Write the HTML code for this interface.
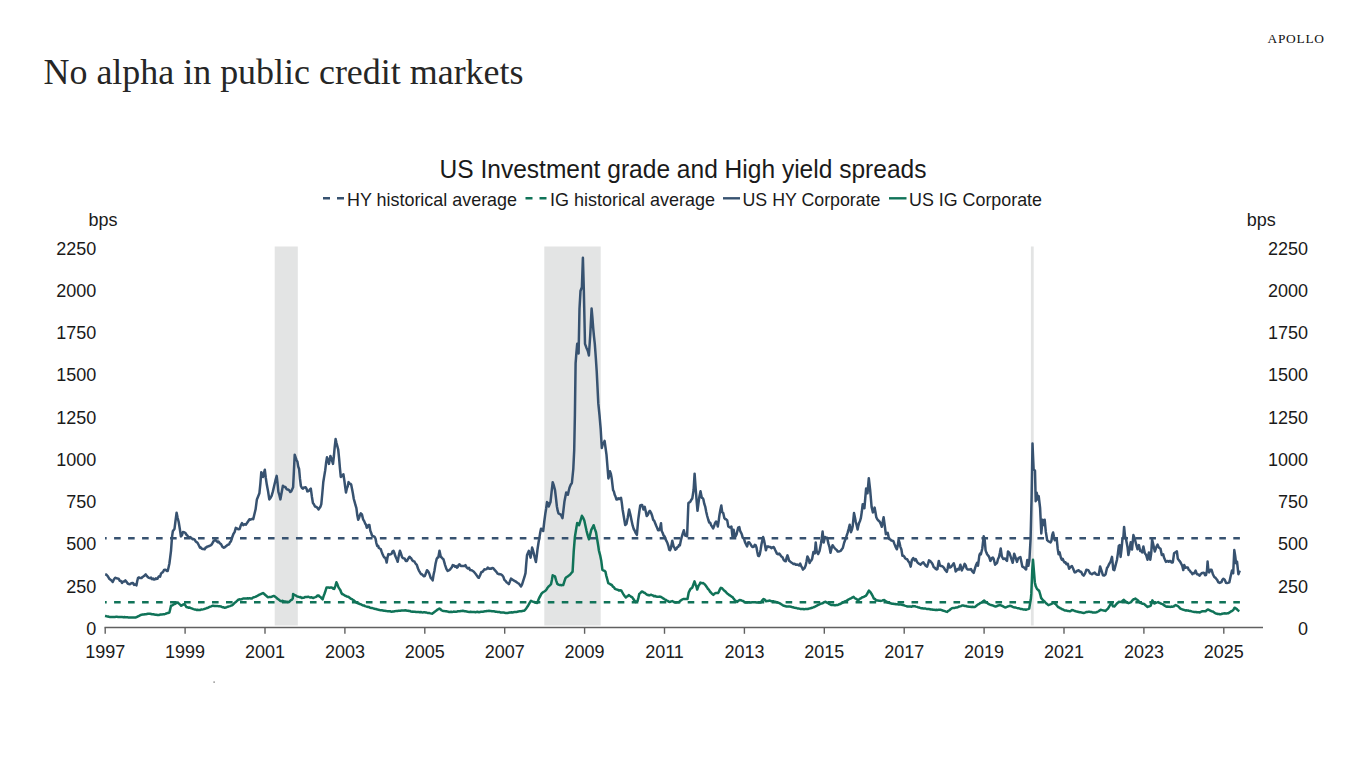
<!DOCTYPE html>
<html><head><meta charset="utf-8"><title>No alpha in public credit markets</title>
<style>
html,body{margin:0;padding:0;background:#fff;}
body{width:1366px;height:768px;overflow:hidden;}
svg{display:block;}
.t{font-family:"Liberation Sans",Arial,sans-serif;font-size:18px;fill:#1a1a1a;}
.ct{font-family:"Liberation Sans",Arial,sans-serif;font-size:25px;fill:#1a1a1a;}
.lg{font-family:"Liberation Sans",Arial,sans-serif;font-size:18.5px;fill:#1a1a1a;}
.h1{font-family:"Liberation Serif","Times New Roman",serif;font-size:35px;fill:#262626;}
.logo{font-family:"Liberation Serif","Times New Roman",serif;font-size:13.4px;fill:#111;}
</style></head>
<body>
<svg width="1366" height="768" viewBox="0 0 1366 768">
<rect x="274.7" y="246.5" width="23.1" height="379" fill="#e3e4e4"/>
<rect x="544.3" y="246.5" width="56.4" height="379" fill="#e3e4e4"/>
<rect x="1030.9" y="246.5" width="2.8" height="379" fill="#e3e4e4"/>
<line x1="104.5" y1="627.5" x2="1263" y2="627.5" stroke="#606060" stroke-width="1.4"/>
<line x1="105.2" y1="627.5" x2="105.2" y2="633.8" stroke="#606060" stroke-width="1.4"/>
<line x1="185.1" y1="627.5" x2="185.1" y2="633.8" stroke="#606060" stroke-width="1.4"/>
<line x1="265.0" y1="627.5" x2="265.0" y2="633.8" stroke="#606060" stroke-width="1.4"/>
<line x1="344.9" y1="627.5" x2="344.9" y2="633.8" stroke="#606060" stroke-width="1.4"/>
<line x1="424.8" y1="627.5" x2="424.8" y2="633.8" stroke="#606060" stroke-width="1.4"/>
<line x1="504.7" y1="627.5" x2="504.7" y2="633.8" stroke="#606060" stroke-width="1.4"/>
<line x1="584.6" y1="627.5" x2="584.6" y2="633.8" stroke="#606060" stroke-width="1.4"/>
<line x1="664.5" y1="627.5" x2="664.5" y2="633.8" stroke="#606060" stroke-width="1.4"/>
<line x1="744.4" y1="627.5" x2="744.4" y2="633.8" stroke="#606060" stroke-width="1.4"/>
<line x1="824.3" y1="627.5" x2="824.3" y2="633.8" stroke="#606060" stroke-width="1.4"/>
<line x1="904.2" y1="627.5" x2="904.2" y2="633.8" stroke="#606060" stroke-width="1.4"/>
<line x1="984.1" y1="627.5" x2="984.1" y2="633.8" stroke="#606060" stroke-width="1.4"/>
<line x1="1064.0" y1="627.5" x2="1064.0" y2="633.8" stroke="#606060" stroke-width="1.4"/>
<line x1="1143.9" y1="627.5" x2="1143.9" y2="633.8" stroke="#606060" stroke-width="1.4"/>
<line x1="1223.8" y1="627.5" x2="1223.8" y2="633.8" stroke="#606060" stroke-width="1.4"/>
<line x1="105" y1="538.3" x2="1240" y2="538.3" stroke="#375270" stroke-width="2.4" stroke-dasharray="6.6 7.39" stroke-dashoffset="4.9"/>
<line x1="105" y1="602.2" x2="1240" y2="602.2" stroke="#107358" stroke-width="2.4" stroke-dasharray="6.6 7.39" stroke-dashoffset="4.9"/>
<polyline points="105.0,615.9 106.0,616.1 107.0,616.4 108.0,616.5 109.0,616.8 110.0,617.0 111.0,616.9 112.0,616.9 113.0,617.0 114.0,616.9 115.0,616.9 116.0,616.8 117.0,616.8 118.0,616.9 119.1,616.9 120.2,616.9 121.2,617.1 122.2,617.1 123.3,617.2 124.4,617.1 125.4,617.3 126.4,617.2 127.4,617.3 128.4,617.4 129.4,617.4 130.4,617.4 131.5,617.5 132.5,617.5 133.5,617.6 134.5,617.6 135.5,617.6 136.5,617.0 137.5,616.7 138.6,616.1 139.6,615.6 140.6,615.0 141.7,614.8 142.7,614.6 143.8,614.5 144.8,614.3 145.8,614.2 146.9,614.0 147.9,613.8 149.0,613.7 150.1,613.8 151.1,614.0 152.2,614.3 153.2,614.3 154.3,614.5 155.4,614.7 156.4,614.7 157.5,615.0 158.5,614.9 159.4,614.9 160.4,614.5 161.4,614.5 162.4,614.4 163.3,614.2 164.3,614.2 165.3,613.9 166.3,613.5 167.4,613.1 168.4,612.9 169.4,612.5 170.2,609.2 171.0,605.8 171.9,605.5 172.8,605.1 173.6,604.5 174.5,604.0 175.6,603.5 176.7,602.7 177.8,602.4 178.9,603.6 180.1,604.6 181.2,605.8 182.3,605.1 183.5,604.4 184.6,604.0 185.4,605.4 186.3,607.0 187.3,607.2 188.3,607.7 189.4,607.5 190.4,607.9 191.4,608.3 192.4,608.7 193.4,609.1 194.4,609.4 195.4,609.5 196.4,610.0 197.3,609.7 198.2,610.0 199.1,609.9 200.0,610.0 201.0,609.6 202.0,609.6 202.9,609.4 203.9,609.1 204.9,608.8 206.0,608.4 207.0,608.0 208.1,607.7 209.1,607.2 210.2,606.7 211.2,606.3 212.3,605.8 213.2,605.7 214.2,606.1 215.1,606.1 216.1,606.1 217.0,605.9 217.9,606.1 218.9,606.3 219.8,606.3 220.8,606.4 221.8,606.9 222.7,607.3 223.7,607.3 224.7,607.8 225.8,607.6 226.8,607.2 227.9,606.7 228.9,606.4 230.0,606.1 231.0,605.7 232.1,605.3 233.1,604.5 234.2,603.3 235.2,602.4 236.2,601.7 237.3,600.6 238.3,599.7 239.3,599.3 240.4,599.4 241.4,599.3 242.4,598.8 243.5,598.4 244.5,598.4 245.6,598.4 246.6,598.4 247.7,598.3 248.7,598.6 249.8,598.2 250.8,598.6 251.9,598.4 253.0,597.6 254.0,597.2 255.1,596.9 256.2,596.5 257.3,595.9 258.3,595.3 259.4,594.7 260.3,594.3 261.2,593.9 262.1,593.5 263.0,593.0 264.0,593.8 265.0,594.7 266.0,595.6 267.0,596.4 268.0,597.2 269.0,597.1 270.1,596.9 271.1,597.0 272.1,596.5 273.2,596.1 274.2,596.0 275.2,596.7 276.3,597.6 277.3,598.6 278.3,599.2 279.4,600.1 280.4,600.9 281.4,601.3 282.3,600.8 283.3,601.1 284.2,601.5 285.2,601.6 286.1,601.7 287.1,601.8 288.0,602.1 289.0,602.1 289.9,601.2 290.9,600.2 291.9,599.7 292.8,598.4 293.1,594.0 294.2,594.8 295.4,595.3 296.5,596.1 297.5,596.5 298.6,596.8 299.6,597.2 300.7,597.1 301.7,598.0 302.8,597.7 303.9,597.7 304.9,597.1 306.0,597.1 307.1,597.1 308.2,596.7 309.2,597.1 310.3,597.5 311.3,597.2 312.4,597.7 313.4,598.0 314.4,597.4 315.5,597.1 316.5,596.6 317.6,595.4 318.6,595.4 319.6,596.6 320.6,597.1 321.6,598.4 322.6,599.3 323.6,596.1 324.6,593.5 325.5,590.8 326.5,587.6 327.5,587.6 328.6,587.6 329.6,587.8 330.7,587.6 331.7,587.6 332.6,588.0 333.4,588.8 334.3,588.9 335.4,585.9 336.4,582.3 337.4,584.4 338.5,587.4 339.5,588.9 340.4,590.3 341.2,592.5 342.1,594.0 343.1,594.4 344.1,595.0 345.0,595.6 346.0,596.0 347.0,596.6 347.9,596.7 348.9,597.2 349.9,598.0 350.9,598.8 351.8,599.1 352.8,599.8 353.8,600.4 354.8,601.4 355.8,602.0 356.7,602.8 357.7,603.2 358.7,603.5 359.8,604.0 360.8,604.2 361.9,604.9 362.9,605.4 363.9,605.4 365.0,606.1 366.0,606.4 367.1,606.7 368.1,607.1 369.1,607.1 370.2,607.8 371.2,607.9 372.3,608.1 373.3,608.4 374.3,608.7 375.4,609.1 376.4,609.1 377.5,609.6 378.5,609.7 379.6,610.0 380.7,610.2 381.8,610.2 382.8,610.4 383.9,610.7 385.0,610.8 386.0,610.9 386.9,611.1 387.9,611.3 388.9,611.3 389.9,611.2 390.8,611.5 391.8,611.7 392.8,611.4 393.7,611.5 394.7,611.3 395.6,611.1 396.6,611.1 397.5,611.0 398.5,610.8 399.5,610.7 400.4,610.8 401.4,610.6 402.4,610.6 403.4,610.6 404.3,610.5 405.3,610.3 406.3,610.4 407.2,610.8 408.2,610.7 409.2,611.0 410.2,611.1 411.1,611.6 412.1,611.7 413.1,611.6 414.0,611.8 415.0,611.8 415.9,611.9 416.9,611.9 417.8,612.0 418.8,612.0 419.8,612.2 420.7,612.1 421.7,612.3 422.7,612.4 423.7,612.3 424.6,612.3 425.6,612.5 426.6,612.6 427.5,612.9 428.5,612.9 429.5,613.1 430.5,613.4 431.4,613.6 432.4,613.7 433.5,612.7 434.7,611.8 435.8,610.8 436.7,610.3 437.6,609.6 438.6,609.0 439.5,608.6 440.5,609.3 441.5,610.2 442.5,610.8 443.5,610.9 444.4,611.1 445.4,611.2 446.4,611.3 447.4,611.6 448.3,611.7 449.3,612.0 450.3,612.0 451.2,611.7 452.2,611.9 453.2,611.8 454.2,611.6 455.1,611.8 456.1,611.7 457.1,611.5 458.0,611.2 459.0,611.2 459.9,611.2 460.9,611.0 461.8,611.0 462.8,610.8 463.8,611.0 464.7,611.2 465.7,611.3 466.7,611.6 467.7,611.7 468.6,611.9 469.6,612.0 470.6,611.8 471.5,612.1 472.5,612.1 473.5,612.0 474.5,612.0 475.4,612.2 476.4,612.0 477.3,611.8 478.2,612.0 479.1,612.2 480.0,611.9 481.0,611.7 482.0,611.7 483.0,611.7 484.0,611.4 484.9,611.3 485.9,611.3 486.9,611.0 487.9,610.9 488.9,610.8 489.9,611.0 490.9,611.1 491.8,611.2 492.8,611.3 493.8,611.3 494.8,611.5 495.7,611.7 496.7,611.8 497.7,611.9 498.7,611.9 499.7,612.1 500.7,612.5 501.7,612.5 502.6,612.6 503.6,612.4 504.6,612.8 505.6,612.9 506.6,613.0 507.6,613.0 508.6,612.8 509.6,612.6 510.6,612.6 511.5,612.2 512.5,612.4 513.5,612.2 514.5,612.0 515.5,611.9 516.5,611.9 517.5,611.8 518.4,611.4 519.4,611.3 520.4,611.3 521.4,611.2 522.3,611.0 523.3,610.8 524.3,610.8 525.4,609.5 526.6,607.9 527.7,606.3 528.8,604.3 529.9,602.4 531.0,600.8 532.1,601.4 533.2,601.7 534.3,601.9 535.3,602.5 536.2,602.8 537.2,603.0 538.3,600.1 539.4,597.5 540.3,596.0 541.2,594.1 542.1,593.0 543.2,592.1 544.3,591.5 545.4,590.8 546.5,589.5 547.6,587.7 548.7,586.4 549.9,585.3 551.0,584.2 551.9,579.9 552.7,575.3 553.9,575.9 555.0,576.3 556.1,580.3 557.3,583.9 558.5,584.6 559.7,585.1 560.6,585.0 561.5,585.3 562.3,585.1 563.2,585.1 564.4,581.4 565.5,578.1 566.7,577.0 567.9,576.3 569.0,575.4 570.2,574.5 571.4,573.0 572.6,571.6 573.7,551.7 574.9,536.9 576.0,530.0 577.2,522.9 578.2,524.0 579.1,525.2 580.0,522.1 581.0,518.9 581.9,515.8 583.1,517.7 584.3,520.5 585.5,525.9 586.6,531.1 587.8,535.6 589.0,539.3 590.1,534.8 591.3,529.9 592.5,527.5 593.6,525.2 594.8,528.9 596.0,532.2 597.1,538.9 598.3,546.3 598.9,550.5 600.1,555.1 601.3,561.1 602.4,569.9 603.4,570.5 604.4,570.7 605.4,571.6 606.2,575.3 607.1,578.6 608.3,583.3 609.5,583.6 610.6,584.5 611.8,585.0 613.0,586.8 614.0,587.4 614.9,588.8 615.9,589.2 616.9,589.5 617.8,589.7 618.8,590.4 620.0,590.2 621.2,590.4 622.4,592.5 623.5,594.4 624.6,596.0 625.8,597.4 626.8,596.6 627.8,596.1 628.8,595.0 629.7,595.7 630.5,596.2 631.4,596.9 632.3,597.4 633.2,598.9 634.0,599.9 634.9,601.1 635.8,602.1 636.7,601.3 637.6,600.9 638.5,597.4 639.3,593.9 640.5,592.9 641.7,591.5 642.7,591.8 643.6,592.5 644.6,592.7 645.6,593.6 646.5,594.4 647.5,595.0 648.4,594.9 649.2,595.4 650.1,595.1 651.0,594.8 651.9,595.1 652.8,595.4 653.6,596.2 654.5,596.0 655.4,596.1 656.2,596.6 657.1,596.8 658.0,596.8 659.0,596.7 660.0,596.6 661.1,597.0 662.3,597.8 663.2,598.4 664.1,598.9 665.0,599.6 665.9,599.9 666.8,600.5 667.6,600.9 668.5,601.5 669.4,601.9 670.4,601.7 671.3,601.4 672.3,601.1 673.3,601.6 674.2,602.0 675.2,602.5 676.1,602.5 677.0,602.2 677.8,602.2 678.7,602.2 679.6,601.5 680.5,600.6 681.3,600.1 682.2,599.5 683.2,599.0 684.2,599.1 685.2,599.0 686.4,599.1 687.5,599.0 688.7,592.5 689.5,590.9 690.4,589.0 691.3,588.4 692.2,587.8 693.4,584.5 694.5,581.4 695.7,584.9 696.5,586.9 697.2,589.6 698.6,585.5 699.5,584.5 700.4,582.6 701.4,582.9 702.3,583.2 703.3,583.1 704.5,584.1 705.7,585.5 706.9,587.2 708.0,589.0 709.0,589.8 709.9,591.5 710.9,592.5 712.1,593.9 713.3,594.9 714.5,593.6 715.6,593.1 716.8,593.1 718.0,593.1 719.0,591.5 719.9,589.2 720.9,587.8 721.9,588.2 722.8,589.2 723.8,590.2 724.8,591.0 725.7,591.8 726.7,593.1 727.6,593.8 728.5,594.4 729.4,595.2 730.3,595.7 731.5,596.6 732.6,597.2 733.8,598.9 734.9,600.1 736.1,601.2 737.3,601.9 738.5,600.7 739.6,599.9 740.8,600.2 742.0,600.7 742.9,601.0 743.8,601.4 744.6,602.0 745.5,602.5 746.4,602.5 747.4,602.6 748.3,602.3 749.3,602.3 750.2,602.5 751.1,602.4 752.0,602.3 752.8,602.2 753.7,602.2 754.6,602.3 755.5,602.2 756.3,602.5 757.2,602.5 758.1,602.6 759.0,602.5 759.8,602.4 760.7,602.5 761.6,601.3 762.5,600.1 763.6,599.0 764.8,599.7 766.0,601.3 767.0,600.9 767.9,600.9 768.9,600.7 769.8,600.6 770.6,601.0 771.5,601.2 772.4,601.3 773.3,601.2 774.1,601.6 775.0,601.7 775.9,601.9 776.8,602.3 777.6,602.6 778.5,602.8 779.4,603.1 780.3,603.6 781.2,604.2 782.1,604.8 783.0,605.4 783.9,605.8 784.8,606.0 785.6,606.2 786.5,606.6 787.4,606.4 788.2,606.6 789.1,606.5 790.0,606.6 790.9,606.7 791.9,607.0 792.8,607.2 793.8,607.5 794.7,607.7 795.6,607.9 796.5,608.0 797.5,608.5 798.4,608.4 799.3,608.6 800.2,608.9 801.2,608.9 802.1,609.1 803.1,608.9 804.0,609.3 804.9,609.1 805.9,609.0 806.8,608.9 807.8,609.0 808.7,608.6 809.6,608.4 810.5,608.3 811.3,608.0 812.2,607.7 813.1,607.4 814.1,607.0 815.0,606.6 816.0,606.1 816.9,605.7 817.9,605.0 818.8,604.8 819.8,604.2 820.8,603.6 821.7,603.4 822.6,603.3 823.6,602.5 824.5,602.1 825.5,601.7 826.4,602.4 827.4,602.8 828.3,603.2 829.2,603.9 830.2,604.5 831.1,605.0 832.2,605.1 833.2,604.9 834.3,605.2 835.4,605.2 836.4,605.0 837.5,605.0 838.5,604.6 839.4,604.1 840.4,604.0 841.3,603.2 842.2,603.0 843.2,602.5 844.1,601.9 845.1,601.3 846.0,601.0 846.9,600.6 847.9,599.8 848.8,599.3 849.8,598.7 850.7,598.5 851.7,597.9 852.6,597.4 853.6,596.9 854.6,598.0 855.7,598.7 856.7,599.2 857.7,600.1 858.7,599.9 859.7,598.9 860.7,598.4 861.7,597.7 862.7,597.2 863.7,596.9 864.7,596.2 865.7,596.1 866.8,594.6 867.8,592.7 868.9,590.5 870.1,591.8 871.4,593.7 872.6,595.8 873.8,598.5 874.9,598.9 875.9,600.1 877.0,600.6 878.0,600.6 879.0,600.7 880.0,600.8 881.0,600.9 882.1,600.6 883.1,600.2 884.2,600.1 885.3,600.9 886.4,601.5 887.5,602.5 888.5,602.7 889.4,603.1 890.4,603.3 891.3,603.5 892.3,603.8 893.3,603.8 894.2,604.0 895.2,604.0 896.1,604.3 897.1,604.2 898.0,604.4 899.0,604.5 900.0,604.5 900.9,604.6 901.8,604.7 902.8,605.0 903.7,605.2 904.7,605.6 905.6,605.9 906.5,606.1 907.5,606.6 908.4,606.6 909.5,606.4 910.5,606.5 911.6,606.8 912.7,606.1 913.7,606.2 914.8,606.2 915.9,606.6 917.0,606.9 918.0,607.2 919.1,607.5 920.2,607.9 921.3,608.2 922.4,608.3 923.4,608.6 924.5,608.4 925.6,608.6 926.6,608.9 927.7,609.0 928.8,609.0 929.9,609.2 931.0,609.5 932.0,609.5 933.1,609.7 934.2,609.8 935.3,609.9 936.3,609.8 937.4,609.9 938.5,609.8 939.5,609.7 940.6,609.8 941.7,610.1 942.7,610.5 943.8,610.8 944.9,611.2 945.9,611.6 947.0,611.9 948.0,611.1 949.0,610.5 949.9,609.9 950.9,608.9 951.9,608.2 952.9,608.1 953.8,607.9 954.8,607.9 955.7,607.6 956.7,607.4 957.8,607.2 958.8,606.6 959.9,606.4 961.0,606.1 962.0,605.5 963.1,605.4 964.1,605.8 965.1,606.0 966.0,605.9 967.0,606.5 968.0,606.6 969.1,606.7 970.1,606.8 971.2,606.9 972.3,606.7 973.3,607.0 974.4,607.1 975.4,606.6 976.4,605.7 977.3,605.0 978.3,604.3 979.3,603.8 980.3,603.0 981.2,602.6 982.2,602.1 983.1,601.3 984.1,600.6 985.1,601.4 986.0,602.4 987.0,602.7 987.9,603.4 988.9,604.2 990.0,604.7 991.1,605.1 992.1,605.3 993.2,605.6 994.3,606.2 995.4,606.6 996.4,606.3 997.3,605.8 998.3,605.6 999.2,605.2 1000.2,605.0 1001.2,605.5 1002.1,605.9 1003.1,606.4 1004.0,606.9 1005.0,607.4 1006.0,607.2 1006.9,606.9 1007.9,606.4 1008.8,606.2 1009.8,605.8 1010.8,606.0 1011.8,606.4 1012.7,606.9 1013.7,607.3 1014.7,607.4 1015.8,607.6 1016.8,607.9 1017.9,608.2 1019.0,608.3 1020.0,608.7 1021.1,609.0 1022.1,609.1 1023.0,609.4 1024.0,609.4 1024.9,609.4 1025.9,609.8 1027.0,609.4 1028.1,609.1 1029.2,608.7 1030.0,603.9 1030.8,599.3 1031.3,593.9 1032.3,569.5 1033.0,559.8 1033.8,569.5 1034.8,582.2 1035.7,586.1 1036.5,587.8 1037.2,589.1 1038.2,590.0 1039.2,591.0 1040.2,594.3 1041.1,597.9 1042.3,599.4 1043.6,600.8 1044.8,601.8 1046.0,603.2 1047.2,604.1 1048.4,605.2 1049.7,604.7 1050.9,604.2 1052.1,603.6 1053.3,602.7 1054.5,603.4 1055.8,604.2 1057.0,605.7 1058.2,607.1 1059.2,607.5 1060.1,608.1 1061.1,608.6 1062.1,609.3 1063.1,609.5 1064.1,610.1 1065.1,610.5 1066.0,610.4 1067.0,610.7 1068.0,610.9 1068.9,611.1 1069.9,611.3 1070.9,610.8 1071.9,610.1 1072.9,610.3 1073.8,610.5 1074.8,611.0 1075.8,611.3 1076.7,611.5 1077.7,611.7 1078.7,612.0 1079.7,612.3 1080.7,612.3 1081.7,612.6 1082.6,612.8 1083.6,613.0 1084.6,612.7 1085.5,612.4 1086.5,612.0 1087.5,612.1 1088.5,611.7 1089.5,611.7 1090.5,611.9 1091.4,611.9 1092.4,612.5 1093.4,612.6 1094.3,612.5 1095.3,612.5 1096.3,612.3 1097.2,612.0 1098.2,611.5 1099.5,610.6 1100.7,609.8 1101.9,610.1 1103.1,610.4 1104.3,610.6 1105.6,611.0 1106.8,609.7 1108.0,608.6 1109.0,606.8 1110.0,605.2 1111.4,602.7 1112.2,604.5 1112.9,606.2 1113.7,606.4 1114.4,606.6 1115.3,605.4 1116.3,604.2 1117.5,603.0 1118.8,601.8 1120.0,601.9 1121.2,601.8 1122.4,600.9 1123.6,599.8 1124.8,600.8 1126.1,601.8 1127.3,602.6 1128.5,603.2 1129.8,602.7 1131.0,602.2 1132.2,600.6 1133.4,599.3 1134.3,599.2 1135.3,598.6 1136.2,599.3 1137.0,599.6 1137.9,600.4 1138.8,601.4 1139.6,602.2 1140.5,603.0 1141.4,603.0 1142.3,603.7 1143.2,603.7 1144.1,603.9 1145.0,604.8 1145.8,605.5 1146.7,606.2 1147.6,607.0 1148.6,606.4 1149.7,606.3 1150.7,605.7 1151.6,603.1 1152.4,600.4 1153.3,601.9 1154.2,603.5 1155.3,603.1 1156.4,602.6 1157.2,602.4 1158.1,602.1 1159.0,602.7 1159.9,603.0 1160.8,603.5 1161.7,603.9 1162.5,604.1 1163.4,604.8 1164.3,605.3 1165.1,606.0 1166.0,606.5 1166.9,606.7 1167.8,606.6 1168.6,606.7 1169.5,606.8 1170.4,606.9 1171.3,606.6 1172.2,606.7 1173.1,606.5 1174.0,606.2 1174.8,605.5 1175.7,605.0 1176.8,605.7 1177.9,606.1 1179.0,607.1 1180.1,608.3 1181.0,608.8 1181.8,609.2 1182.7,609.6 1183.6,609.8 1184.5,610.1 1185.3,610.4 1186.2,610.3 1187.1,610.4 1188.0,610.5 1188.9,610.8 1189.8,610.9 1190.7,611.0 1191.5,611.4 1192.4,611.6 1193.3,611.8 1194.2,611.9 1195.0,612.0 1195.9,612.0 1196.8,612.2 1197.8,612.3 1198.9,612.2 1199.9,612.4 1200.8,611.9 1201.6,611.5 1202.5,611.2 1203.5,611.2 1204.6,611.3 1205.6,611.2 1206.7,610.3 1207.8,609.4 1208.9,609.9 1210.0,610.5 1210.9,610.9 1211.7,611.3 1212.6,611.4 1213.5,612.0 1214.3,612.6 1215.2,613.1 1216.1,613.5 1217.0,613.7 1217.9,614.0 1218.8,613.9 1219.7,614.2 1220.5,614.2 1221.4,614.0 1222.3,613.7 1223.2,613.6 1224.0,613.5 1224.9,613.3 1225.8,613.4 1226.7,613.4 1227.5,613.3 1228.4,613.3 1229.3,612.6 1230.2,612.0 1231.1,611.4 1232.2,610.8 1233.3,610.0 1234.6,607.7 1235.4,608.1 1236.3,608.7 1237.2,609.5 1238.1,610.5 1239.4,611.2" fill="none" stroke="#107358" stroke-width="2.5" stroke-linejoin="round"/>
<polyline points="105.1,574.4 106.3,574.6 107.6,576.0 108.5,577.4 109.3,578.8 110.2,579.5 111.5,580.5 112.7,582.0 114.0,579.3 115.2,577.8 116.3,578.1 117.5,578.6 118.6,578.7 119.7,580.7 120.9,581.0 122.0,583.0 123.1,581.5 124.3,581.6 125.4,580.4 126.5,581.8 127.7,583.5 128.8,584.0 129.9,584.2 130.9,583.5 131.9,583.1 133.0,583.0 134.1,584.9 135.3,584.5 136.4,585.4 137.2,581.3 138.0,578.0 138.9,577.4 139.8,578.0 140.6,578.1 141.5,578.0 142.6,576.9 143.6,576.2 144.6,575.4 145.7,574.4 146.8,575.9 147.9,577.2 149.0,577.8 150.0,578.2 151.0,577.6 152.0,579.2 153.0,578.5 154.0,579.5 154.9,579.2 155.8,578.4 156.6,578.9 157.5,578.7 158.4,577.0 159.2,576.3 160.1,576.6 161.0,573.6 162.0,572.6 163.0,572.1 164.0,569.9 165.0,569.7 165.9,570.0 166.8,570.9 167.7,571.0 168.6,567.2 169.4,563.5 170.2,557.4 171.0,550.8 172.0,537.2 172.8,531.3 173.7,530.1 174.5,528.8 175.6,520.1 176.6,512.7 177.6,517.7 178.7,522.0 179.8,528.7 180.9,536.4 181.9,535.4 182.9,532.1 184.2,532.2 185.4,533.0 186.3,534.5 187.1,535.3 188.0,536.4 189.1,537.5 190.3,537.1 191.4,538.0 192.5,539.2 193.7,539.1 194.8,539.8 195.7,541.5 196.6,542.1 197.5,542.7 198.8,545.3 200.0,547.7 200.9,547.6 201.8,548.8 202.8,549.0 203.7,549.0 204.6,549.3 205.6,547.5 206.5,547.4 207.4,546.4 208.3,546.4 209.2,546.0 210.1,545.6 211.0,545.2 211.9,544.1 212.9,542.3 213.9,540.8 214.8,540.2 215.7,540.3 216.7,541.2 217.6,542.1 218.5,541.5 219.8,543.3 221.0,544.0 222.2,546.5 223.5,547.7 224.4,547.5 225.3,546.9 226.3,545.9 227.2,545.2 228.1,544.7 229.1,544.4 230.0,542.2 230.9,541.5 232.2,537.3 233.4,534.0 234.6,532.1 235.8,527.9 236.8,528.3 237.7,529.0 238.7,529.2 239.6,529.0 240.8,525.3 242.0,523.0 243.2,525.1 244.5,524.2 245.8,524.7 247.0,523.0 248.2,521.2 249.5,519.2 250.4,519.7 251.3,519.3 252.3,518.7 253.2,519.2 254.4,514.2 255.6,509.3 256.9,499.4 258.1,496.5 259.4,493.2 260.4,483.4 261.3,472.2 262.1,475.0 263.0,477.0 263.9,473.4 264.8,469.7 265.8,478.0 266.8,484.6 268.1,491.5 269.3,499.4 270.5,498.0 271.7,495.7 272.9,491.4 274.2,485.8 275.4,480.7 276.7,475.9 277.5,482.9 278.4,492.0 279.4,495.2 280.4,499.4 281.6,492.7 282.9,485.8 284.1,486.7 285.3,487.0 286.6,489.2 287.8,489.5 289.1,490.1 290.3,492.0 291.3,491.2 292.2,489.3 293.1,487.3 293.9,471.4 294.7,454.7 295.6,457.3 296.5,460.0 297.4,461.6 298.2,466.5 299.1,469.0 300.0,478.9 300.9,486.0 301.9,487.9 303.0,488.6 303.9,487.6 304.7,487.5 305.6,487.3 306.5,488.7 307.3,491.4 308.2,491.2 309.1,490.7 309.9,489.5 310.8,488.6 311.9,496.7 312.9,502.9 313.9,504.2 315.0,506.6 316.0,506.8 316.9,507.3 317.7,508.2 318.6,509.4 319.5,508.1 320.4,506.8 321.3,504.2 322.3,493.5 323.3,482.0 324.2,476.4 325.2,470.4 326.1,462.8 327.0,457.3 328.0,460.2 329.0,463.9 330.4,456.0 331.3,458.3 332.1,460.9 333.0,463.9 333.9,456.0 334.7,447.2 335.6,439.1 336.5,443.0 337.3,446.1 338.2,449.5 339.1,458.4 339.9,467.8 340.8,476.9 341.7,476.3 342.5,475.7 343.4,474.3 344.3,480.1 345.1,486.3 346.0,492.5 346.9,488.2 347.7,486.5 348.6,482.1 349.5,483.8 350.3,483.7 351.2,484.7 352.1,489.2 352.9,493.5 353.8,499.0 354.7,502.1 355.5,505.2 356.4,508.1 357.3,515.3 358.2,519.8 359.1,517.8 359.9,515.0 360.8,513.3 361.9,514.4 363.1,519.3 364.2,521.1 365.1,523.4 365.9,524.5 366.8,527.7 367.7,526.9 368.5,524.9 369.4,525.0 370.3,530.6 371.1,532.7 372.0,535.5 372.9,536.3 373.7,536.3 374.6,536.8 375.5,538.5 376.3,542.8 377.2,545.9 378.1,545.8 378.9,548.0 379.8,548.5 380.7,549.0 381.5,551.4 382.4,553.7 383.3,555.7 384.1,557.3 385.0,557.6 385.9,559.4 386.7,562.6 387.5,557.4 388.4,554.1 389.6,554.6 390.9,554.1 391.8,553.5 392.6,551.3 393.5,550.8 394.4,552.9 395.2,555.8 396.4,558.4 397.7,561.8 398.8,555.6 399.9,550.8 400.9,553.3 401.9,556.7 402.8,558.0 403.6,558.2 404.5,558.4 405.8,560.9 407.0,560.9 408.2,558.7 409.5,556.7 410.4,557.7 411.2,558.3 412.1,560.0 413.2,561.1 414.4,561.5 415.5,563.5 416.8,564.9 418.0,568.5 418.9,570.6 419.7,571.9 420.9,574.0 422.2,574.5 423.1,575.5 423.9,576.3 424.8,576.1 425.9,573.3 427.0,570.2 428.0,571.1 429.0,572.8 429.9,575.3 430.7,577.8 431.7,578.9 432.7,580.4 433.5,575.1 434.4,571.0 435.5,564.1 436.6,559.2 437.5,557.5 438.3,557.5 439.5,550.8 440.8,556.7 441.7,557.5 442.5,558.5 443.4,559.2 444.2,561.9 445.1,565.1 446.4,568.9 447.6,571.0 448.9,570.3 450.1,569.4 451.0,568.3 451.8,567.3 452.7,565.1 453.9,565.5 455.2,566.8 456.0,566.1 456.9,567.7 457.8,567.0 458.6,565.0 459.5,564.3 460.8,565.9 462.0,566.0 463.1,565.9 464.3,566.0 465.4,565.1 466.6,567.3 467.9,568.5 469.0,567.8 470.2,570.1 471.3,570.2 472.4,570.7 473.6,571.5 474.7,572.8 475.9,574.2 477.2,576.1 478.0,577.3 478.9,577.8 480.1,575.3 481.4,571.9 482.4,572.0 483.3,570.9 484.4,569.3 485.6,569.4 486.7,569.1 487.8,567.5 488.9,568.7 490.0,568.6 491.1,568.8 492.2,567.9 493.3,568.2 494.4,569.7 495.5,570.9 496.6,572.1 497.7,573.7 498.8,574.2 499.9,574.1 501.1,574.5 502.2,575.3 503.3,576.7 504.4,579.8 505.5,580.8 506.6,582.4 507.7,583.0 508.8,584.2 509.9,581.5 511.0,578.6 512.1,579.4 513.3,580.2 514.4,580.8 515.5,581.4 516.6,582.1 517.7,583.0 518.8,583.6 519.9,585.0 521.0,586.4 522.1,584.3 523.2,580.8 524.4,577.2 525.5,573.1 526.2,564.2 527.0,555.3 527.9,553.0 528.8,550.9 529.7,554.3 530.6,557.6 531.4,552.8 532.1,547.6 532.9,550.0 533.7,553.1 534.8,557.7 535.9,562.0 536.8,555.5 537.6,548.7 538.5,542.7 539.4,537.6 540.2,532.7 541.0,528.7 542.1,529.3 543.2,531.0 544.3,521.5 545.4,513.2 546.2,508.2 547.0,502.1 547.9,502.9 548.7,506.6 549.6,504.2 550.5,502.1 551.6,491.8 552.7,482.2 553.9,485.7 555.0,490.0 556.0,498.3 556.9,506.5 557.7,510.7 558.5,513.5 559.7,514.1 560.9,514.7 561.7,516.4 562.5,518.2 563.5,509.6 564.4,501.8 565.3,497.0 566.2,492.4 567.0,494.1 567.9,494.8 568.7,491.0 569.5,487.7 570.7,484.7 571.9,483.0 573.3,469.0 574.2,450.3 574.9,415.1 575.6,363.3 576.4,352.8 577.2,343.8 578.6,353.5 579.5,308.6 580.5,291.0 581.9,287.1 582.9,257.8 583.8,289.0 585.0,343.8 586.4,347.7 587.3,349.6 588.1,351.9 588.9,355.5 590.3,334.0 591.6,308.6 592.4,317.5 593.2,328.1 594.0,336.6 594.8,343.8 595.8,357.7 596.7,371.1 597.5,387.1 598.3,403.4 599.5,415.1 600.7,429.2 601.8,447.9 603.0,443.2 603.8,442.9 604.6,440.9 605.5,447.5 606.5,454.9 607.5,467.1 608.4,478.4 609.2,475.3 610.0,471.3 610.9,473.9 611.7,478.4 613.1,490.1 613.9,491.5 614.7,494.8 615.5,496.5 616.4,499.4 617.3,499.4 618.2,498.3 619.1,499.1 620.0,498.4 621.0,497.8 621.8,502.9 622.6,509.5 623.9,517.3 625.2,525.1 626.5,523.8 627.8,517.3 629.1,509.5 630.4,514.7 631.7,521.2 632.7,525.7 633.7,529.0 634.7,530.7 635.6,532.9 636.9,534.9 638.2,519.9 639.2,512.5 640.2,505.6 641.2,504.9 642.1,504.9 643.4,509.5 644.7,506.9 645.7,511.3 646.7,516.0 648.0,514.7 649.0,511.7 649.9,510.8 651.3,513.4 652.2,516.0 653.2,519.9 654.2,520.8 655.2,523.2 656.2,525.7 657.1,527.7 658.1,530.3 659.1,530.3 660.0,528.4 661.0,523.2 661.7,531.0 662.7,533.0 663.6,535.5 664.6,536.4 665.6,539.4 666.5,541.1 667.5,543.3 668.4,546.0 669.2,549.8 670.0,550.3 670.8,548.5 671.5,544.9 672.3,540.7 673.6,546.6 674.5,547.8 675.3,549.8 676.3,549.1 677.3,547.2 678.2,546.9 679.0,545.0 679.9,545.3 680.8,540.7 681.8,536.8 682.8,533.4 683.8,530.3 685.1,535.5 686.1,535.9 687.1,536.2 688.4,503.0 689.3,502.4 690.3,501.7 691.3,499.8 692.3,498.4 693.6,490.0 694.6,473.7 695.8,490.0 696.6,500.5 697.5,510.8 698.4,503.9 699.2,497.8 700.5,491.3 701.8,497.8 702.5,497.9 703.3,499.1 704.3,503.9 705.3,506.9 706.2,511.7 707.2,516.0 708.2,519.5 709.2,522.5 710.2,522.8 711.1,525.1 712.1,526.7 713.1,528.4 714.0,526.3 715.0,523.2 716.1,521.5 717.0,523.2 717.8,526.5 718.6,521.6 719.4,515.4 720.3,510.2 721.3,505.5 722.2,512.1 723.3,513.2 724.4,518.2 725.2,519.0 726.1,519.3 727.2,520.4 728.3,526.5 729.1,527.0 729.9,527.6 730.6,527.2 731.4,526.5 732.5,536.5 733.6,529.8 734.9,536.5 735.8,536.1 736.6,534.2 737.4,530.7 738.2,527.6 739.3,527.1 740.1,530.8 741.0,532.6 741.9,534.6 742.7,537.6 743.5,538.1 744.3,539.8 745.1,542.4 746.0,544.2 747.1,546.4 748.2,542.5 749.0,542.2 749.8,543.1 750.6,544.3 751.5,545.9 752.4,547.0 753.2,547.0 754.0,546.6 754.8,544.8 755.6,545.1 756.5,547.5 757.3,552.0 758.1,555.8 759.0,556.1 759.8,554.2 760.6,549.9 761.5,544.2 762.3,540.5 763.1,537.0 764.2,540.9 765.0,545.2 765.9,550.3 767.0,546.4 768.1,546.5 769.2,547.0 770.3,546.9 771.4,548.1 772.5,547.4 773.6,547.0 774.5,548.5 775.3,550.3 776.1,551.9 776.9,553.6 778.0,554.3 779.2,553.6 780.3,554.9 781.4,556.4 782.5,557.2 783.6,559.7 784.7,561.1 785.8,561.3 786.6,557.7 787.5,555.3 788.3,557.8 789.1,560.8 790.2,561.6 791.3,562.5 792.4,563.1 793.5,564.1 794.6,563.8 795.8,564.7 796.9,564.6 798.0,564.7 799.1,565.5 800.2,563.6 801.3,566.3 802.1,567.6 802.9,569.6 803.8,568.7 804.6,568.0 805.7,565.2 806.5,561.5 807.4,556.4 808.5,558.6 809.6,563.0 810.5,561.0 811.3,560.4 812.1,558.9 813.4,552.1 814.8,553.4 815.7,542.5 816.8,552.1 818.2,554.1 819.6,550.7 820.9,543.9 821.8,538.2 822.6,531.6 823.7,542.5 825.0,537.0 826.0,537.9 827.1,537.7 828.5,543.9 829.5,547.2 830.5,552.8 831.5,548.5 832.6,545.2 833.6,546.7 834.6,548.0 835.7,549.3 836.7,550.0 837.7,551.5 838.7,551.4 839.8,551.3 840.8,550.7 841.8,549.2 842.8,548.0 844.2,542.5 845.0,540.5 845.8,538.4 846.7,535.5 847.6,532.9 848.7,528.9 849.7,524.7 851.0,532.2 851.9,529.6 852.7,526.1 854.0,513.1 854.9,517.3 855.8,522.0 856.7,525.3 857.6,529.5 858.4,525.6 859.2,522.7 860.0,521.0 860.9,517.9 861.8,511.8 862.7,504.2 863.5,506.8 864.4,508.3 865.2,498.9 866.1,488.5 867.5,493.3 868.8,478.2 870.2,490.5 871.6,506.9 872.9,512.4 873.8,510.5 874.6,507.6 875.5,512.4 876.3,517.2 877.3,519.3 878.4,520.6 879.5,521.4 880.5,523.4 881.8,526.8 882.7,521.9 883.6,517.2 885.0,527.5 885.9,534.3 886.8,533.2 887.7,532.9 888.5,536.4 889.3,539.1 890.3,539.5 891.4,540.5 892.4,540.7 893.4,541.1 894.5,544.1 895.5,546.6 896.9,549.3 897.8,545.4 898.6,539.8 899.5,542.7 900.3,546.6 901.4,549.5 902.4,555.7 903.3,555.6 904.3,556.6 905.2,558.3 906.2,559.0 907.2,559.3 908.1,560.9 909.5,562.8 910.7,566.6 911.9,560.0 913.3,558.1 914.7,560.4 915.7,559.0 917.1,561.9 918.0,563.1 919.0,563.8 919.8,563.9 920.5,564.7 921.5,563.7 922.4,562.8 923.3,562.2 924.3,563.8 925.7,565.7 927.1,566.6 928.0,563.9 929.0,560.4 930.0,560.8 930.9,561.9 931.8,562.8 932.8,564.7 933.8,567.4 934.7,567.6 935.7,569.0 936.6,569.5 937.4,569.2 938.1,564.7 938.8,560.9 940.0,565.7 941.0,566.1 941.9,566.1 942.8,566.6 943.8,567.6 945.2,570.0 946.0,571.0 946.8,571.9 947.6,568.8 948.5,563.8 949.2,565.7 950.0,567.6 951.0,566.9 951.9,565.7 952.8,564.8 953.8,563.3 954.8,566.8 955.7,571.4 956.7,570.3 957.6,569.0 959.0,569.5 960.4,564.7 961.8,570.4 962.5,568.7 963.3,567.6 964.7,563.8 965.7,565.4 966.6,568.5 967.5,569.5 968.5,569.5 969.7,569.6 970.9,569.0 972.3,571.4 973.7,572.8 974.5,570.2 975.2,567.6 976.2,564.7 977.1,562.8 978.0,565.7 979.4,555.2 980.1,553.5 980.9,554.3 982.3,548.5 983.7,536.2 984.7,540.0 985.6,550.4 986.4,552.6 987.1,554.3 988.0,555.4 989.0,556.6 990.4,560.9 991.8,558.1 992.8,557.5 993.7,559.0 995.1,564.7 996.1,563.7 997.1,562.8 998.0,559.0 999.0,557.1 999.9,552.8 1000.7,548.5 1001.8,556.2 1003.2,559.0 1004.2,558.8 1005.1,558.5 1006.0,559.9 1007.0,560.9 1008.0,551.4 1009.4,552.8 1010.8,557.1 1011.8,560.1 1012.7,562.8 1013.5,558.4 1014.2,553.8 1015.6,557.6 1017.0,561.9 1017.8,559.3 1018.5,558.1 1019.5,557.4 1020.4,557.1 1021.3,561.5 1022.3,566.6 1023.2,567.0 1024.2,567.6 1025.2,568.7 1026.1,569.5 1027.3,560.0 1028.4,565.7 1029.4,560.2 1030.6,538.5 1031.6,497.8 1032.5,443.6 1033.6,469.0 1035.0,470.7 1035.7,501.2 1036.7,492.7 1037.9,499.5 1038.7,496.1 1040.1,508.0 1041.3,533.4 1042.5,519.8 1043.8,524.9 1044.7,519.8 1045.8,531.7 1047.2,540.2 1048.5,541.4 1049.7,541.9 1050.6,542.4 1051.4,541.0 1052.2,535.2 1053.1,532.5 1053.9,536.6 1054.8,540.2 1055.8,539.8 1056.8,539.6 1057.7,548.7 1058.6,554.2 1059.6,552.4 1060.9,557.8 1061.8,559.7 1062.7,558.8 1063.7,561.2 1064.6,562.4 1065.5,562.3 1066.4,564.2 1067.8,563.8 1069.1,568.8 1070.5,567.0 1071.9,566.0 1073.2,568.8 1074.6,572.4 1075.5,572.2 1076.4,571.5 1077.6,570.6 1078.7,570.2 1079.6,571.4 1080.5,571.5 1081.4,572.3 1082.3,574.3 1083.7,575.6 1085.1,573.3 1086.4,569.7 1087.3,569.9 1088.3,570.2 1089.2,571.7 1090.1,573.3 1091.0,573.7 1091.9,574.3 1092.8,573.5 1093.7,573.3 1094.7,572.5 1095.6,573.8 1096.5,574.5 1097.4,574.7 1098.8,574.7 1100.1,566.5 1101.5,570.6 1102.9,575.2 1104.2,575.6 1105.6,574.3 1107.0,567.9 1107.9,566.9 1108.8,564.7 1109.7,563.1 1110.6,561.5 1112.0,556.9 1113.3,569.7 1114.3,570.2 1115.6,565.1 1117.0,559.7 1117.9,553.3 1118.8,546.0 1119.7,545.1 1120.6,556.9 1121.5,549.6 1122.5,538.7 1123.4,536.9 1124.1,526.9 1125.0,536.0 1126.1,539.6 1127.5,546.9 1128.4,555.1 1129.7,548.7 1130.7,542.3 1132.0,549.6 1133.4,535.1 1134.8,538.7 1136.1,544.2 1137.5,549.2 1138.9,545.1 1140.2,551.0 1141.2,551.1 1142.1,552.4 1143.4,546.4 1144.8,553.3 1146.2,555.1 1147.5,559.7 1148.9,552.4 1150.3,559.7 1151.2,553.3 1152.1,539.6 1153.4,545.1 1154.8,551.5 1155.6,549.3 1156.4,546.9 1157.6,544.6 1158.3,546.5 1159.1,547.8 1160.5,548.7 1161.8,555.1 1163.2,554.2 1164.1,557.8 1165.0,559.7 1165.9,561.9 1166.8,561.4 1167.8,561.0 1168.7,561.8 1169.6,561.0 1170.5,561.0 1171.4,562.4 1172.8,562.4 1174.1,553.3 1175.5,552.3 1176.9,551.4 1177.8,558.7 1179.2,560.6 1180.1,561.6 1181.0,563.3 1182.3,566.0 1183.3,570.1 1184.2,565.1 1185.5,567.8 1186.9,567.4 1187.8,567.4 1188.7,569.7 1189.7,570.4 1190.6,571.9 1191.5,572.6 1192.4,574.2 1193.3,573.2 1194.2,573.3 1195.6,570.6 1196.9,574.2 1197.8,574.3 1198.8,575.1 1199.7,575.6 1200.6,574.2 1201.5,573.4 1202.4,572.9 1203.3,572.8 1204.2,572.9 1205.1,575.2 1206.0,575.1 1207.0,570.6 1207.6,561.5 1208.3,569.7 1209.2,572.4 1210.2,569.7 1211.5,569.7 1212.9,574.2 1214.3,577.0 1215.6,577.9 1217.0,579.7 1218.4,582.4 1219.7,582.9 1220.6,582.4 1221.5,582.0 1222.5,579.6 1223.4,578.8 1224.7,579.7 1226.1,582.9 1227.0,583.1 1227.9,582.9 1229.3,582.4 1230.7,576.0 1232.0,570.6 1233.2,573.3 1234.3,550.1 1235.2,556.0 1236.1,563.3 1237.0,561.5 1238.4,574.2 1239.8,570.6" fill="none" stroke="#375270" stroke-width="2.5" stroke-linejoin="round"/>
<text x="96.2" y="634.8" text-anchor="end" class="t">0</text>
<text x="1308.1" y="634.8" text-anchor="end" class="t">0</text>
<text x="96.2" y="592.5" text-anchor="end" class="t">250</text>
<text x="1308.1" y="592.5" text-anchor="end" class="t">250</text>
<text x="96.2" y="550.3" text-anchor="end" class="t">500</text>
<text x="1308.1" y="550.3" text-anchor="end" class="t">500</text>
<text x="96.2" y="508.0" text-anchor="end" class="t">750</text>
<text x="1308.1" y="508.0" text-anchor="end" class="t">750</text>
<text x="96.2" y="465.8" text-anchor="end" class="t">1000</text>
<text x="1308.1" y="465.8" text-anchor="end" class="t">1000</text>
<text x="96.2" y="423.5" text-anchor="end" class="t">1250</text>
<text x="1308.1" y="423.5" text-anchor="end" class="t">1250</text>
<text x="96.2" y="381.3" text-anchor="end" class="t">1500</text>
<text x="1308.1" y="381.3" text-anchor="end" class="t">1500</text>
<text x="96.2" y="339.0" text-anchor="end" class="t">1750</text>
<text x="1308.1" y="339.0" text-anchor="end" class="t">1750</text>
<text x="96.2" y="296.8" text-anchor="end" class="t">2000</text>
<text x="1308.1" y="296.8" text-anchor="end" class="t">2000</text>
<text x="96.2" y="254.5" text-anchor="end" class="t">2250</text>
<text x="1308.1" y="254.5" text-anchor="end" class="t">2250</text>
<text x="105.2" y="657.6" text-anchor="middle" class="t">1997</text>
<text x="185.1" y="657.6" text-anchor="middle" class="t">1999</text>
<text x="265.0" y="657.6" text-anchor="middle" class="t">2001</text>
<text x="344.9" y="657.6" text-anchor="middle" class="t">2003</text>
<text x="424.8" y="657.6" text-anchor="middle" class="t">2005</text>
<text x="504.7" y="657.6" text-anchor="middle" class="t">2007</text>
<text x="584.6" y="657.6" text-anchor="middle" class="t">2009</text>
<text x="664.5" y="657.6" text-anchor="middle" class="t">2011</text>
<text x="744.4" y="657.6" text-anchor="middle" class="t">2013</text>
<text x="824.3" y="657.6" text-anchor="middle" class="t">2015</text>
<text x="904.2" y="657.6" text-anchor="middle" class="t">2017</text>
<text x="984.1" y="657.6" text-anchor="middle" class="t">2019</text>
<text x="1064.0" y="657.6" text-anchor="middle" class="t">2021</text>
<text x="1143.9" y="657.6" text-anchor="middle" class="t">2023</text>
<text x="1223.8" y="657.6" text-anchor="middle" class="t">2025</text>
<text x="88.5" y="225.8" class="t">bps</text>
<text x="1246.8" y="225.6" class="t">bps</text>
<text x="439.5" y="178.4" class="ct" textLength="487" lengthAdjust="spacingAndGlyphs">US Investment grade and High yield spreads</text>
<line x1="323" y1="198.3" x2="344" y2="198.3" stroke="#375270" stroke-width="2.4" stroke-dasharray="7 7"/>
<text x="347" y="206.1" class="lg" textLength="170" lengthAdjust="spacingAndGlyphs">HY historical average</text>
<line x1="525.5" y1="198.3" x2="546.5" y2="198.3" stroke="#107358" stroke-width="2.4" stroke-dasharray="7 7"/>
<text x="550" y="206.1" class="lg" textLength="165" lengthAdjust="spacingAndGlyphs">IG historical average</text>
<line x1="723" y1="198.3" x2="740" y2="198.3" stroke="#375270" stroke-width="2.4"/>
<text x="742.5" y="206.1" class="lg" textLength="138" lengthAdjust="spacingAndGlyphs">US HY Corporate</text>
<line x1="889" y1="198.3" x2="906.5" y2="198.3" stroke="#107358" stroke-width="2.4"/>
<text x="909" y="206.1" class="lg" textLength="133" lengthAdjust="spacingAndGlyphs">US IG Corporate</text>
<text x="43.5" y="83.5" class="h1" textLength="480" lengthAdjust="spacingAndGlyphs">No alpha in public credit markets</text>
<text x="1267.5" y="42.6" class="logo" textLength="56.5" lengthAdjust="spacing">APOLLO</text>
<rect x="213.5" y="681.5" width="1.2" height="1.2" fill="#555"/>
</svg>
</body></html>
